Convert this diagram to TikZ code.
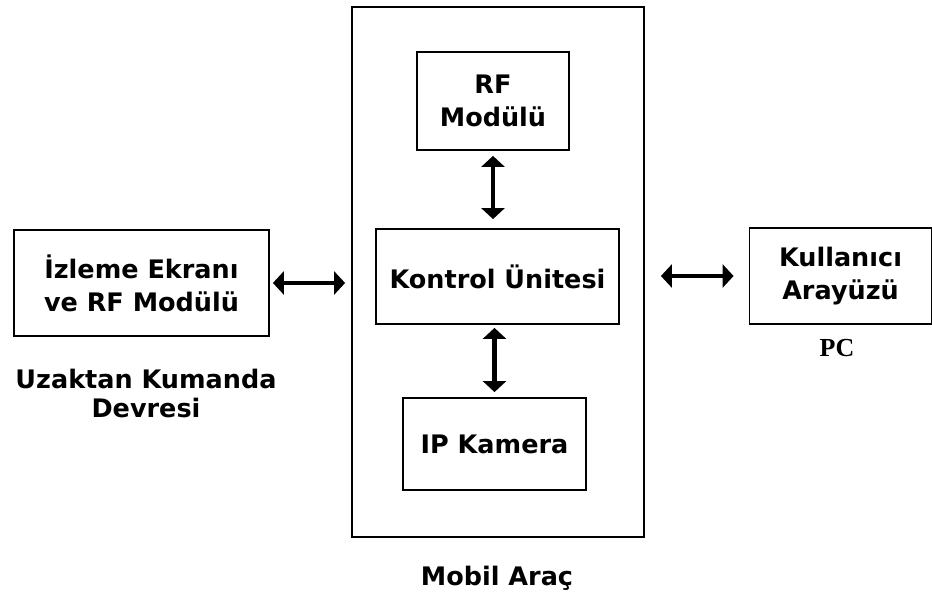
\documentclass[tikz,border=0pt]{standalone}
\usepackage{fontspec}
\setmainfont{DejaVu Sans}
\newfontfamily\boxfont{DejaVu Sans Bold}
\newfontfamily\pcfont{Liberation Serif Bold}
\usetikzlibrary{arrows.meta}
\begin{document}
\begin{tikzpicture}[x=1pt,y=-1pt,
  blk/.style={draw,line width=1.8pt,inner sep=0pt,align=center,font=\boxfont\fontsize{25.5}{33}\selectfont},
  captxt/.style={inner sep=0pt,align=center,font=\boxfont\fontsize{25.5}{29}\selectfont},
  arr/.style={line width=4.5pt,{Triangle[width=23pt,length=11pt]}-{Triangle[width=23pt,length=11pt]}}]
\useasboundingbox (0,0) rectangle (932,593);
\node[blk,minimum width=292pt,minimum height=530pt] (mobil) at (498,272) {};
\node[blk,minimum width=152pt,minimum height=98pt] (rf) at (493,101) {RF\\Modülü};
\node[blk,minimum width=243pt,minimum height=95pt] (kon) at (497.5,276.5) {Kontrol Ünitesi};
\node[blk,minimum width=183pt,minimum height=92pt] (ip) at (494.5,444) {IP Kamera};
\node[blk,minimum width=255pt,minimum height=106pt] (izl) at (141.5,283) {İzleme Ekranı\\ve RF Modülü};
\node[blk,minimum width=182pt,minimum height=96pt] (kul) at (840.5,276) {Kullanıcı\\Arayüzü};
\node[captxt] (uz) at (146,393) {Uzaktan Kumanda\\Devresi};
\node[inner sep=0pt,font=\pcfont\fontsize{26}{30}\selectfont] (pc) at (837,348) {PC};
\node[captxt] (mob) at (497,578) {Mobil Araç};
\draw[arr,shorten <=5pt,shorten >=9pt] (rf.south) -- (rf.south |- kon.north);
\draw[arr,shorten <=3pt,shorten >=5pt] (ip.north |- kon.south) -- (ip.north);
\draw[arr,shorten <=3pt,shorten >=6pt] (izl.east) -- (mobil.west |- izl.east);
\draw[arr,shorten <=16pt,shorten >=15pt] (mobil.east |- kul.west) -- (kul.west);
\end{tikzpicture}
\end{document}
